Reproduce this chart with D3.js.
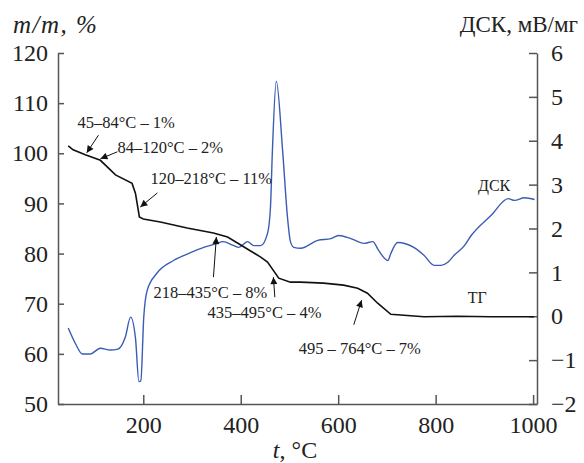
<!DOCTYPE html>
<html>
<head>
<meta charset="utf-8">
<script src="https://cdn.jsdelivr.net/npm/d3@7"></script>
<style>
  body { margin: 0; background: #fff; }
  svg text { font-family: "Liberation Serif", "Times New Roman", serif; fill: #222; }
</style>
</head>
<body>
<div id="chart"></div>
<script>
// TG curve (mass, %) vs temperature
var tgT = [46, 56, 81, 112, 143, 177, 184, 192, 200, 235, 290, 344, 373, 400, 441, 455, 478, 502, 523, 570, 611, 640, 660, 681, 708, 776, 845, 913, 1002];
var tgM = [101.5, 100.7, 99.7, 98.6, 95.7, 94, 92, 87.3, 86.9, 86.3, 85.1, 84.1, 83.3, 81.7, 79.3, 78.3, 75.1, 74.3, 74.3, 74.1, 73.7, 73.1, 72.1, 70.1, 67.9, 67.4, 67.5, 67.4, 67.4];

// DSC curve (mV/mg) vs temperature
var dscT = [46, 62, 75, 91, 112, 132, 148, 163, 174, 184, 191, 195, 201, 208, 228, 262, 297, 324, 352, 363, 386, 396, 414, 427, 441, 455, 461, 465, 473, 486, 496, 502, 509, 523, 558, 585, 601, 626, 653, 671, 683, 702, 708, 722, 755, 776, 797, 811, 825, 838, 859, 873, 914, 949, 962, 982, 1003];
var dscV = [-0.27, -0.65, -0.86, -0.86, -0.73, -0.77, -0.75, -0.48, -0.02, -0.5, -1.49, -1.47, -0.02, 0.59, 0.98, 1.27, 1.45, 1.57, 1.66, 1.7, 1.61, 1.57, 1.7, 1.61, 1.61, 1.89, 2.48, 3.77, 5.36, 3.77, 2.25, 1.7, 1.57, 1.55, 1.73, 1.77, 1.84, 1.77, 1.66, 1.7, 1.5, 1.27, 1.43, 1.68, 1.57, 1.39, 1.16, 1.16, 1.23, 1.39, 1.61, 1.84, 2.3, 2.68, 2.64, 2.7, 2.66];

// tick labels
var xTicks = [200, 400, 600, 800, 1000];
var yLeftTicks = [50, 60, 70, 80, 90, 100, 110, 120];
var yRightTicks = [-2, -1, 0, 1, 2, 3, 4, 5, 6];

// annotations: text anchor and arrow (from -> to) in TG data units
var noteText = ["45\u201384\u00b0C \u2013 1%", "84\u2013120\u00b0C \u2013 2%", "120\u2013218\u00b0C \u2013 11%", "218\u2013435\u00b0C \u2013 8%", "435\u2013495\u00b0C \u2013 4%", "495 \u2013 764\u00b0C \u2013 7%"];
var noteAt = [[65, 105.0], [147, 100.0], [215, 93.9], [221, 71.1], [332, 67.2], [519, 60.0]];
var arrowFrom = [[108, 103.6], [147, 100.3], [229, 92.1], [344, 75.3], [470, 71.3], [632, 65.8]];
var arrowTo = [[84, 100.1], [112, 98.9], [194, 89.3], [350, 83.3], [467, 75.3], [648, 70.7]];

var W = 584, H = 463;
var margin = {top: 53, right: 47, bottom: 59, left: 58};

var svg = d3.select('#chart').append('svg')
  .attr('width', W)
  .attr('height', H);

var x = d3.scaleLinear().domain([25, 1008]).range([margin.left, W - margin.right]);
var y = d3.scaleLinear().domain([50, 120]).range([H - margin.bottom, margin.top]);
var y2 = d3.scaleLinear().domain([-2, 6]).range([H - margin.bottom, margin.top]);

svg.append('defs').append('marker')
  .attr('id', 'arr')
  .attr('viewBox', '0 0 10 10')
  .attr('refX', 10).attr('refY', 5)
  .attr('markerWidth', 9).attr('markerHeight', 7)
  .attr('markerUnits', 'userSpaceOnUse')
  .attr('orient', 'auto')
  .append('path').attr('d', 'M0,0 L10,5 L0,10 Z').attr('fill', '#111');

// axes
function styleAxis(g) {
  g.selectAll('path, line').attr('stroke', '#555').attr('stroke-width', 1.5);
  g.selectAll('text').attr('font-size', 24).attr('fill', '#222');
}

var gx = svg.append('g')
  .attr('transform', 'translate(0,' + (H - margin.bottom) + ')')
  .call(d3.axisBottom(x).tickValues(xTicks).tickFormat(d3.format('d'))
    .tickSizeInner(-9).tickSizeOuter(0).tickPadding(12));
styleAxis(gx);

var gy = svg.append('g')
  .attr('transform', 'translate(' + margin.left + ',0)')
  .call(d3.axisLeft(y).tickValues(yLeftTicks).tickSizeInner(-6).tickSizeOuter(0).tickPadding(10));
styleAxis(gy);

var gy2 = svg.append('g')
  .attr('transform', 'translate(' + (W - margin.right) + ',0)')
  .call(d3.axisRight(y2).tickValues(yRightTicks).tickSizeInner(-8).tickSizeOuter(0).tickPadding(14));
styleAxis(gy2);

// curves
var tg = tgT.map(function(t, i) { return [t, tgM[i]]; });
var dsc = dscT.map(function(t, i) { return [t, dscV[i]]; });

svg.append('path')
  .datum(dsc)
  .attr('fill', 'none')
  .attr('stroke', '#3a5cb4')
  .attr('stroke-width', 1.4)
  .attr('d', d3.line().x(function(d) { return x(d[0]); }).y(function(d) { return y2(d[1]); }).curve(d3.curveMonotoneX));

svg.append('path')
  .datum(tg)
  .attr('fill', 'none')
  .attr('stroke', '#111')
  .attr('stroke-width', 1.6)
  .attr('d', d3.line().x(function(d) { return x(d[0]); }).y(function(d) { return y(d[1]); }));

// annotations
noteText.forEach(function(t, i) {
  svg.append('text')
    .attr('x', x(noteAt[i][0]))
    .attr('y', y(noteAt[i][1]))
    .attr('font-size', 16.5)
    .text(t);
  svg.append('line')
    .attr('x1', x(arrowFrom[i][0])).attr('y1', y(arrowFrom[i][1]))
    .attr('x2', x(arrowTo[i][0])).attr('y2', y(arrowTo[i][1]))
    .attr('stroke', '#111').attr('stroke-width', 1)
    .attr('marker-end', 'url(#arr)');
});

// curve labels
svg.append('text').attr('x', x(887)).attr('y', y2(2.86)).attr('font-size', 16).text('ДСК');
svg.append('text').attr('x', x(866)).attr('y', y(70.1)).attr('font-size', 16).text('ТГ');

// axis titles
svg.append('text').attr('x', 13).attr('y', 33).attr('font-size', 25)
  .attr('font-style', 'italic').attr('letter-spacing', 1.5).text('m/m, %');
svg.append('text').attr('x', W - 6).attr('y', 32).attr('font-size', 23)
  .attr('text-anchor', 'end').text('ДСК, мВ/мг');
svg.append('text').attr('x', 295).attr('y', 458).attr('font-size', 24)
  .attr('text-anchor', 'middle')
  .html('<tspan font-style="italic">t</tspan>, °C');
</script>
</body>
</html>
